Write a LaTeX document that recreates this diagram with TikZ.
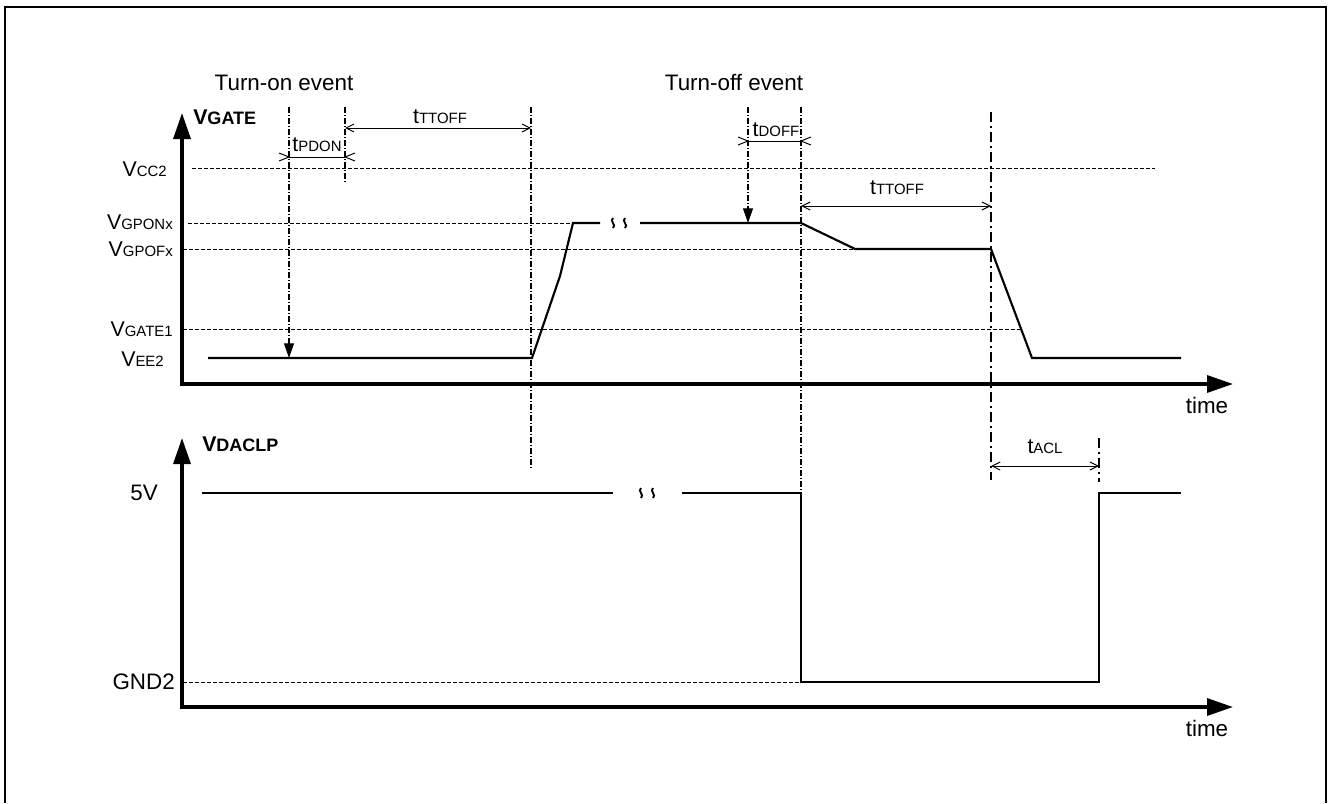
\documentclass[tikz,border=0pt]{standalone}
\usepackage{fontspec}
\setmainfont{Liberation Sans}
\usetikzlibrary{arrows.meta}
\newcommand\lab[2]{#1{\fontsize{11.2}{11.2}\selectfont #2}}
\newcommand\blab[2]{\bfseries{\fontsize{16}{16}\selectfont #1}{\fontsize{13.5}{13.5}\selectfont #2}}
\begin{document}
\begin{tikzpicture}[x=0.75pt,y=-0.75pt,
 txt/.style={inner sep=0pt, font=\fontsize{16}{16}\selectfont},
 bigtxt/.style={inner sep=0pt, font=\fontsize{16.8}{16.8}\selectfont},
 axisline/.style={line width=2.5pt, -{Triangle[length=19.5pt,width=12.75pt]}},
 sigline/.style={line width=1.6pt, line join=miter},
 lvl/.style={line width=0.75pt, dash pattern=on 3pt off 1.5pt},
 vmark/.style={line width=0.8pt, dash pattern=on 4.5pt off 1.5pt on 0.75pt off 1.5pt},
 vmarkb/.style={line width=1.5pt, dash pattern=on 7.5pt off 3pt on 1.5pt off 3pt},
 dimline/.style={line width=0.75pt, {Straight Barb[length=6pt,width=6pt]}-{Straight Barb[length=6pt,width=6pt]}},
 downarr/.style={vmark, -{Triangle[length=11pt,width=7.5pt]}},
 barb/.style={line width=0.75pt},
 squig/.style={line width=1.4pt},
]
\useasboundingbox (0,0) rectangle (1331,803);
% frame
\draw[line width=1.5pt] (5,803) -- (5,7) -- (1326,7) -- (1326,803);

% ---------- coordinates ----------
\coordinate (o1) at (182,384);
\coordinate (y1) at (182,113);
\coordinate (x1) at (1233,384);
\coordinate (o2) at (182,707);
\coordinate (y2) at (182,438);
\coordinate (x2) at (1233,707);

% ---------- axes ----------
\draw[axisline] ([yshift=-1.25pt]o1) -- (y1);
\draw[axisline] ([xshift=-1.25pt]o1) -- (x1);
\draw[axisline] ([yshift=-1.25pt]o2) -- (y2);
\draw[axisline] ([xshift=-1.25pt]o2) -- (x2);

\node[txt, anchor=west] (vgate) at (193,117) {\blab{V}{GATE}};
\node[txt, anchor=west] (vdaclp) at (202,444) {\blab{V}{DACLP}};
\node[bigtxt] (time1) at (1207,405) {time};
\node[bigtxt] (time2) at (1207,728) {time};

% ---------- level labels ----------
\node[txt, anchor=east] (lvcc) at (167,169) {\lab{V}{CC2}};
\node[txt, anchor=east] (lvgpon) at (173,222) {\lab{V}{GPONx}};
\node[txt, anchor=east] (lvgpof) at (173,249) {\lab{V}{GPOFx}};
\node[txt, anchor=east] (lvgate1) at (173,329) {\lab{V}{GATE1}};
\node[txt, anchor=east] (lvee) at (164,359) {\lab{V}{EE2}};
\node[bigtxt, anchor=east] (l5v) at (158,493) {5V};
\node[bigtxt, anchor=east] (lgnd) at (175,682) {GND2};

% ---------- level dashed lines ----------
\draw[lvl] (192,168) coordinate (vccA) -- (1155,168) coordinate (vccB);
\draw[lvl] (188,223) coordinate (gponA) -- (573,223) coordinate (gponB);
\draw[lvl] (183,249) coordinate (gpofA) -- (855,249) coordinate (gpofB);
\draw[lvl] (183,329) coordinate (g1A) -- (1023,329) coordinate (g1B);
\draw[lvl] (183,682) coordinate (gndA) -- (801,682) coordinate (gndB);

% ---------- event labels ----------
\node[bigtxt] (ton) at (284,83) {Turn-on event};
\node[bigtxt] (toff) at (734,83) {Turn-off event};

% ---------- vertical markers ----------
\draw[downarr] (289,107) coordinate (vA) -- (289,358) coordinate (vAb);
\draw[vmark] (345,107) coordinate (vB) -- (345,183) coordinate (vBb);
\draw[vmark] (531,107) coordinate (vC) -- (531,470) coordinate (vCb);
\draw[downarr] (748,107) coordinate (vD) -- (748,223) coordinate (vDb);
\draw[vmark] (801,107) coordinate (vE) -- (801,682) coordinate (vEb);
\draw[vmarkb] (991,112) coordinate (vF) -- (991,480) coordinate (vFb);
\draw[vmarkb] (1099,438) coordinate (vG) -- (1099,482) coordinate (vGb);

% ---------- dimension: tPDON ----------
\coordinate (pd1) at (289,157);
\coordinate (pd2) at (345,157);
\draw[barb] (pd1) -- (pd2);
\draw[barb] (pd1) ++(-10,-4) -- (pd1) -- ++(-10,4);
\draw[barb] (pd2) ++(10,-4) -- (pd2) -- ++(10,4);
\node[txt] (tpdon) at (317,145) {\lab{t}{PDON}};

% ---------- dimension: tTTOFF (1) ----------
\coordinate (tt1) at (345,128);
\coordinate (tt2) at (531,128);
\draw[dimline] (tt1) -- (tt2);
\node[txt] (ttoff1) at (440,117) {\lab{t}{TTOFF}};

% ---------- dimension: tDOFF ----------
\coordinate (df1) at (748,141);
\coordinate (df2) at (801,141);
\draw[barb] (df1) -- (df2);
\draw[barb] (df1) ++(-10,-4) -- (df1) -- ++(-10,4);
\draw[barb] (df2) ++(10,-4) -- (df2) -- ++(10,4);
\node[txt] (tdoff) at (776,130) {\lab{t}{DOFF}};

% ---------- dimension: tTTOFF (2) ----------
\coordinate (tu1) at (801,206);
\coordinate (tu2) at (991,206);
\draw[dimline] (tu1) -- (tu2);
\node[txt] (ttoff2) at (897,188) {\lab{t}{TTOFF}};

% ---------- dimension: tACL ----------
\coordinate (ac1) at (991,466);
\coordinate (ac2) at (1099,466);
\draw[dimline] (ac1) -- (ac2);
\node[txt] (tacl) at (1045,447) {\lab{t}{ACL}};

% ---------- VGATE signal ----------
\draw[sigline] (208,358) -- (532,358) -- (560,276) -- (573,223) -- (600,223);
\draw[sigline] (640,223) -- (801,223) -- (855,249) -- (991,249) -- (1032,358) -- (1181,358);
\foreach \sx in {613,625}{
  \draw[squig] (\sx,218) .. controls (\sx-4,221) and (\sx+4,225) .. (\sx,228);
}

% ---------- VDACLP signal ----------
\draw[sigline] (202,493) -- (613,493);
\draw[sigline] (682,493) -- (801,493) -- (801,682) -- (1099,682) -- (1099,493) -- (1181,493);
\foreach \sx in {641,653}{
  \draw[squig] (\sx,488) .. controls (\sx-4,491) and (\sx+4,495) .. (\sx,498);
}
\end{tikzpicture}
\end{document}
